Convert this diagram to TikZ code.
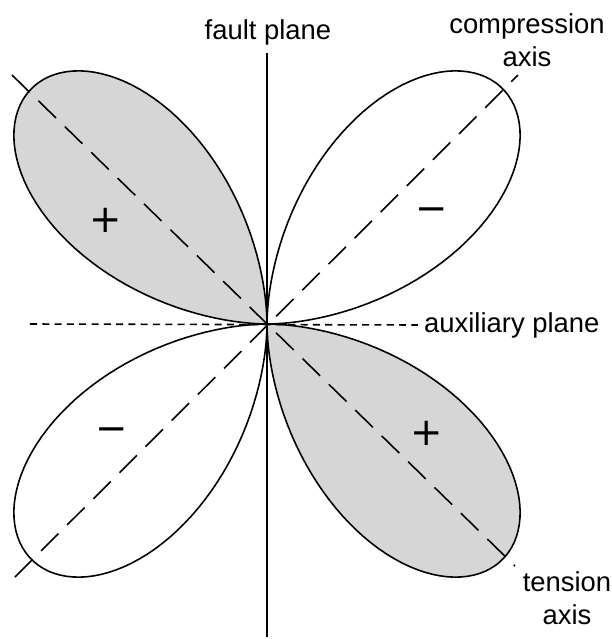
\documentclass[tikz,border=0pt]{standalone}
\usepackage{fontspec}
\setmainfont{Liberation Sans}
\newfontfamily\signfont{DejaVu Sans}
\usepackage{xcolor}
\definecolor{lobe-gray}{HTML}{D6D6D6}

\begin{document}
\begin{tikzpicture}[every node/.style={font=\fontsize{15.6}{18.5}\selectfont},
    lobe/.style={draw=black, line width=0.9pt},
    axis-line/.style={line width=0.9pt, dash pattern=on 14pt off 7pt},
    aux-line/.style={line width=0.9pt, dash pattern=on 4pt off 3pt},
    fault-line/.style={line width=1.7pt},
    sign/.style={font=\signfont\fontsize{22}{22}\selectfont}]
    \useasboundingbox (-5.34, -6.3) rectangle (6.9, 6.48);

    \coordinate (o) at (0, 0);
    \coordinate (fp-top) at (0, 5.42);
    \coordinate (fp-bot) at (0, -6.26);
    \coordinate (aux-w) at (-4.74, 0);
    \coordinate (cmp-ne) at (5.02, 4.98);
    \coordinate (cmp-sw) at (-5.04, -5.06);
    \coordinate (ten-nw) at (-5.1, 4.98);
    \coordinate (ten-se) at (4.96, -4.84);

    % the four lobes
    \foreach \ang/\shade in {135/lobe-gray, 315/lobe-gray, 45/white, 225/white}
      \draw[lobe, fill=\shade] (o) -- plot[domain=-44.5:44.5, samples=90, variable=\a]
        ({\ang+\a}:{6.66*pow(cos(2*\a), 1.25)}) -- cycle;

    \node (fault) at (0.02, 5.84) {fault plane};
    \node[align=center] (cmp) at (5.2, 5.68) {compression\\axis};
    \node[anchor=west] (aux) at (3.02, -0.02) {auxiliary plane};
    \node[align=center] (ten) at (6.0, -5.48) {tension\\axis};

    \node[sign] (plus-nw) at (-3.22, 2.08) {+};
    \node[sign] (minus-ne) at (3.3, 2.18) {−};
    \node[sign] (minus-sw) at (-3.1, -2.22) {−};
    \node[sign] (plus-se) at (3.2, -2.18) {+};

    \draw[axis-line] (cmp-sw) -- (cmp-ne);
    \draw[axis-line] (ten-nw) -- (ten-se);
    \draw[aux-line] (aux-w) -- (aux.west);
    \draw[fault-line] (fp-top) -- (fp-bot);
  \end{tikzpicture}
\end{document}
